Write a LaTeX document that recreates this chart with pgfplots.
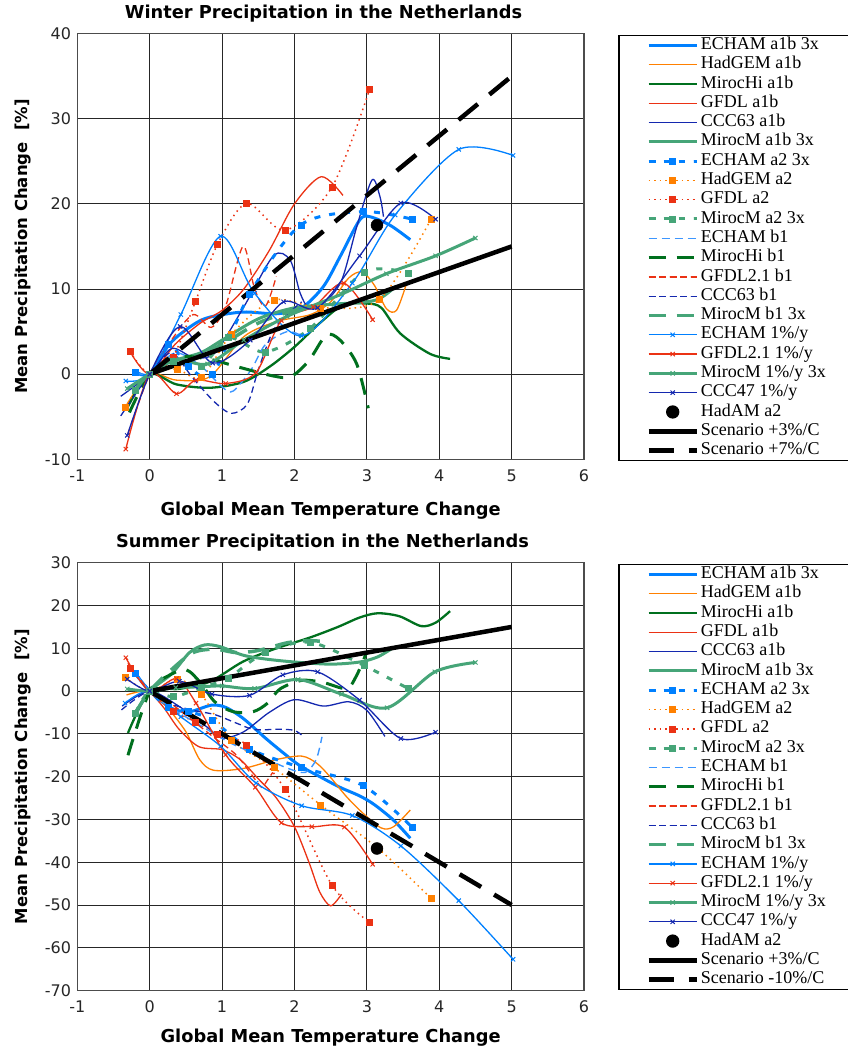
\documentclass[border=0pt]{standalone}
\usepackage{pgfplots}
\pgfplotsset{compat=1.18}
\usepackage{fontspec}
\setmainfont{Liberation Serif}
\newfontfamily\dv{DejaVu Sans}

\definecolor{echam}{RGB}{0,128,255}
\definecolor{hadgem}{RGB}{255,128,0}
\definecolor{mirochi}{RGB}{0,112,30}
\definecolor{gfdl}{RGB}{235,50,20}
\definecolor{ccc}{RGB}{20,40,175}
\definecolor{mirocm}{RGB}{70,165,120}
\definecolor{echamb}{RGB}{60,150,255}

\pgfplotsset{
 sEa1b/.style={echam, line width=3pt, smooth},
 sHa1b/.style={hadgem, line width=1.3pt, smooth},
 sMHa1b/.style={mirochi, line width=2.3pt, smooth},
 sGa1b/.style={gfdl, line width=1.3pt, smooth},
 sCa1b/.style={ccc, line width=1.3pt, smooth},
 sMMa1b/.style={mirocm, line width=3pt, smooth},
 sEa2/.style={echam, line width=3pt, dash pattern=on 6pt off 9pt, smooth, mark=square*, mark size=3pt, mark options={solid, line width=0.5pt}},
 sHa2/.style={hadgem, line width=1.5pt, dash pattern=on 1.5pt off 4pt, smooth, mark=square*, mark size=3pt, mark options={solid, line width=0.5pt}},
 sGa2/.style={gfdl, line width=1.5pt, dash pattern=on 1.5pt off 4pt, smooth, mark=square*, mark size=3pt, mark options={solid, line width=0.5pt}},
 sMMa2/.style={mirocm, line width=3pt, dash pattern=on 6pt off 9pt, smooth, mark=square*, mark size=3pt, mark options={solid, line width=0.5pt}},
 sEb1/.style={echamb, line width=1.4pt, dash pattern=on 8pt off 5pt, smooth},
 sMHb1/.style={mirochi, line width=3pt, dash pattern=on 17pt off 11pt, smooth},
 sGb1/.style={gfdl, line width=1.3pt, dash pattern=on 6.5pt off 4pt, smooth},
 sCb1/.style={ccc, line width=1.3pt, dash pattern=on 6.5pt off 4pt, smooth},
 sMMb1/.style={mirocm, line width=3.5pt, dash pattern=on 17pt off 11pt, smooth},
 sE1/.style={echam, line width=1.3pt, smooth, mark=x, mark size=3pt, mark options={solid, line width=1pt}},
 sG1/.style={gfdl, line width=1.3pt, smooth, mark=x, mark size=3pt, mark options={solid, line width=1pt}},
 sMM1/.style={mirocm, line width=3pt, smooth, mark=x, mark size=3pt, mark options={solid, line width=1pt}},
 sC1/.style={ccc, line width=1.3pt, smooth, mark=x, mark size=3pt, mark options={solid, line width=1pt}},
 sHad/.style={black, only marks, mark=*, mark size=6pt},
 sS3/.style={black, line width=4.5pt},
 sS7/.style={black, line width=4.5pt, dash pattern=on 25pt off 15pt},
 myaxis/.style={
  scale only axis, width=506.7pt,
  xmin=-1, xmax=6, xtick={-1,0,...,6},
  grid=major, major grid style={black!85, line width=0.9pt},
  axis line style={black!70, line width=1.3pt},
  major tick length=0pt,
  tick label style={font=\dv\fontsize{16}{18}\selectfont, text=black!85},
  /pgf/number format/assume math mode=true,
  xticklabel style={yshift=-7pt},
  yticklabel style={xshift=-2.7pt},
  label style={font=\dv\bfseries\fontsize{17.8}{19}\selectfont},
  title style={font=\dv\bfseries\fontsize{17.8}{19}\selectfont, anchor=base},
  ylabel style={at={(axis description cs:-0.0985,0.5)}, anchor=base, font=\dv\bfseries\fontsize{16.5}{19}\selectfont},
  ylabel={Mean Precipitation Change~~[\%]},
  xlabel={Global Mean Temperature Change},
  legend cell align=left,
  legend style={anchor=north west, draw=black, line width=1.3pt, inner xsep=22pt, inner ysep=0pt, row sep=0pt,
    font=\fontsize{18}{20}\selectfont,
    nodes={inner xsep=2pt, inner ysep=1.5pt, outer sep=0pt, text height=12.3pt, text depth=4pt}},
  legend image code/.code={\path (-5.5pt,0pt); \draw[mark repeat=2,mark phase=2,##1] plot coordinates {(0pt,0pt) (24pt,0pt) (48pt,0pt)};},
 }
}

\begin{document}
\begin{tikzpicture}
\path[use as bounding box] (0,0) rectangle (847pt,1047pt);

% ---------------- Winter ----------------
\begin{axis}[myaxis, at={(77.3pt,587.7pt)}, anchor=south west, height=425.6pt,
  ymin=-10, ymax=40, ytick={-10,0,...,40},
  title={Winter Precipitation in the Netherlands},
  title style={at={(axis description cs:0.486,1.0212)}},
  xlabel style={at={(axis description cs:0.5,-0.1316)}, anchor=base},
  legend style={at={(axis description cs:1.0677,0.9970)}},
]
\addplot[sEa1b] coordinates {(-0.2,0.27) (0,0) (0.28,3.6) (0.6,5.8) (0.83,6.7) (1.29,7.3) (1.76,7.1) (2.1,7.8) (2.4,10.3) (2.63,13.8) (2.9,18.1) (3.04,18.5) (3.32,17.5) (3.6,15.8)};
\addlegendentry{ECHAM a1b 3x}
\addplot[sHa1b] coordinates {(-0.34,-3.9) (0,0) (0.37,-0.7) (0.83,-0.3) (1.3,4.4) (1.76,6.2) (2.22,7.0) (2.5,8.5) (2.75,11.3) (2.93,12.0) (3.1,10.5) (3.27,7.7) (3.41,7.5) (3.55,10.7)};
\addlegendentry{HadGEM a1b}
\addplot[sMHa1b] coordinates {(-0.3,-3.8) (0,0) (0.37,-1.2) (0.83,-1.6) (1.3,-0.9) (1.66,0.9) (2.0,3.2) (2.35,6.0) (2.67,8.1) (3.0,8.3) (3.2,7.8) (3.46,4.8) (3.87,2.4) (4.15,1.8)};
\addlegendentry{MirocHi a1b}
\addplot[sGa1b] coordinates {(-0.275,2.7) (0,0) (0.35,3.5) (0.7,6.0) (1.0,7.5) (1.3,10) (1.65,14.5) (2.0,20) (2.37,23.2) (2.67,21.0)};
\addlegendentry{GFDL a1b}
\addplot[sCa1b] coordinates {(-0.4,-2.6) (0,0) (0.3,3.0) (0.6,2.0) (0.9,2.5) (1.3,7.9) (1.71,13.9) (1.94,13.4) (2.08,9.5) (2.2,7.8) (2.4,8.3) (2.65,11) (2.86,17.3) (3.07,22.8) (3.18,20.9) (3.23,18.5)};
\addlegendentry{CCC63 a1b}
\addplot[sMMa1b] coordinates {(-0.196,-1.9) (0,0) (0.3,1.5) (0.7,2.5) (1.0,4.0) (1.5,6.5) (2.0,7.8) (2.5,8.2) (3.0,8.5) (3.2,9.0) (3.4,10.3)};
\addlegendentry{MirocM a1b 3x}
\addplot[sEa2] coordinates {(-0.196,0.27) (0,0) (0.26,3.5) (0.535,0.94) (0.87,0.0) (1.38,9.4) (2.09,17.55) (2.95,19.1) (3.63,18.2)};
\addlegendentry{ECHAM a2 3x}
\addplot[sHa2] coordinates {(-0.34,-3.9) (0,0) (0.38,0.55) (0.715,-0.4) (1.13,4.7) (1.715,8.7) (2.36,7.8) (3.17,8.75) (3.89,18.25)};
\addlegendentry{HadGEM a2}
\addplot[sGa2] coordinates {(-0.275,2.7) (0,0) (0.32,2.0) (0.635,8.6) (0.94,15.3) (1.34,20.05) (1.87,16.9) (2.52,22.0) (3.04,33.5)};
\addlegendentry{GFDL a2}
\addplot[sMMa2] coordinates {(-0.196,-1.9) (0,0) (0.32,1.5) (0.715,0.9) (1.09,4.3) (1.59,2.6) (2.22,5.4) (2.96,12.0) (3.57,11.9)};
\addlegendentry{MirocM a2 3x}
\addplot[sEb1] coordinates {(-0.196,0.27) (0,0) (0.35,2.5) (0.7,1.0) (1.0,-1.5) (1.15,-2.0) (1.4,0.5) (1.6,3.5) (1.9,5.0) (2.1,4.5)};
\addlegendentry{ECHAM b1}
\addplot[sMHb1] coordinates {(-0.28,-4.5) (0,0) (0.35,2.0) (0.8,1.8) (1.2,0.9) (1.7,-0.2) (1.95,-0.3) (2.2,1.6) (2.44,4.6) (2.63,4.0) (2.86,1.2) (3.02,-4.0)};
\addlegendentry{MirocHi b1}
\addplot[sGb1] coordinates {(-0.3,-7.0) (0,0) (0.3,4) (0.6,7.0) (0.85,5.5) (1.05,8) (1.29,15.0) (1.45,10) (1.6,8) (1.75,11.5)};
\addlegendentry{GFDL2.1 b1}
\addplot[sCb1] coordinates {(-0.4,-4.9) (0,0) (0.3,2.5) (0.6,-0.5) (0.9,-3.3) (1.13,-4.6) (1.35,-3.5) (1.5,0.5) (1.7,5) (1.9,7.0) (2.1,8.5)};
\addlegendentry{CCC63 b1}
\addplot[sMMb1] coordinates {(-0.196,-1.9) (0,0) (0.5,1.5) (1.0,3.5) (1.5,6) (2.0,7.5) (2.4,8.0)};
\addlegendentry{MirocM b1 3x}
\addplot[sE1] coordinates {(-0.33,-0.8) (0,0) (0.43,7.0) (0.98,16.2) (1.45,9.5) (2.1,4.5) (2.8,10.7) (3.39,18.7) (4.27,26.4) (5.02,25.7)};
\addlegendentry{ECHAM 1\%/y}
\addplot[sG1] coordinates {(-0.33,-8.8) (0,0) (0.37,-2.3) (0.64,-0.7) (1.05,-1.1) (1.47,0.2) (1.82,6.3) (2.26,7.9) (2.68,10.7) (3.08,6.4)};
\addlegendentry{GFDL2.1 1\%/y}
\addplot[sMM1] coordinates {(-0.31,-1.7) (0,0) (0.36,1.7) (0.8,1.2) (1.3,4) (1.9,6.8) (2.65,9.4) (3.27,11.8) (3.95,13.9) (4.5,16.0)};
\addlegendentry{MirocM 1\%/y 3x}
\addplot[sC1] coordinates {(-0.31,-7.2) (0,0) (0.42,5.6) (0.87,1.3) (1.39,4.0) (1.85,8.5) (2.32,7.8) (2.9,13.9) (3.47,20.1) (3.95,18.2)};
\addlegendentry{CCC47 1\%/y}
\addplot[sHad] coordinates {(3.14,17.5)};
\addlegendentry{HadAM a2}
\addplot[sS3] coordinates {(0,0) (5,15)};
\addlegendentry{Scenario +3\%/C}
\addplot[sS7] coordinates {(0,0) (5,35)};
\addlegendentry{Scenario +7\%/C}
\end{axis}

% ---------------- Summer ----------------
\begin{axis}[myaxis, at={(77.3pt,56.5pt)}, anchor=south west, height=427.7pt,
  ymin=-70, ymax=30, ytick={-70,-60,...,30},
  title={Summer Precipitation in the Netherlands},
  title style={at={(axis description cs:0.484,1.0211)}},
  xlabel style={at={(axis description cs:0.5,-0.1212)}, anchor=base},
  legend style={at={(axis description cs:1.0677,0.9970)}},
]
\addplot[sEa1b] coordinates {(-0.196,4.1) (0,0) (0.3,-4.0) (0.55,-4.8) (0.85,-3.3) (1.05,-3.8) (1.3,-6.5) (1.6,-11) (1.85,-14.5) (2.08,-17.5) (2.35,-20) (2.63,-22.5) (2.9,-24.5) (3.1,-26.5) (3.37,-30.2) (3.6,-34.4)};
\addlegendentry{ECHAM a1b 3x}
\addplot[sHa1b] coordinates {(-0.32,-0.9) (0,0) (0.25,-4) (0.5,-9.5) (0.69,-16) (0.88,-18.5) (1.29,-18.1) (1.75,-16.0) (2.1,-15.2) (2.31,-16.9) (2.49,-20) (2.72,-24.7) (2.95,-28.6) (3.2,-32) (3.37,-31.7) (3.6,-27.8)};
\addlegendentry{HadGEM a1b}
\addplot[sMHa1b] coordinates {(-0.3,-9.8) (0,0) (0.4,0.5) (0.83,2.2) (1.29,6.9) (1.75,10) (2.21,12.5) (2.6,15) (2.9,17.2) (3.15,18.2) (3.45,17.5) (3.75,15.2) (3.95,16.0) (4.15,18.7)};
\addlegendentry{MirocHi a1b}
\addplot[sGa1b] coordinates {(-0.275,5.35) (0,0) (0.2,-4) (0.41,-9) (0.68,-13) (1.0,-13.7) (1.25,-16) (1.5,-20.5) (1.75,-25) (2.0,-31.7) (2.2,-40) (2.35,-47) (2.5,-50.2) (2.65,-47.5)};
\addlegendentry{GFDL a1b}
\addplot[sCa1b] coordinates {(-0.38,-3.5) (0,0) (0.4,-3.5) (0.8,-8.5) (1.0,-11) (1.3,-9.5) (1.65,-5) (2.0,-2.0) (2.4,-3.5) (2.75,-2.5) (3.0,-4.5) (3.25,-10.6)};
\addlegendentry{CCC63 a1b}
\addplot[sMMa1b] coordinates {(-0.196,-5.1) (0,0) (0.3,4) (0.55,9) (0.76,10.8) (0.97,10.4) (1.29,8.4) (1.6,7.5) (2.0,6.8) (2.5,6.3) (2.9,6.8) (3.15,8.0) (3.35,10.0)};
\addlegendentry{MirocM a1b 3x}
\addplot[sEa2] coordinates {(-0.196,4.1) (0,0) (0.26,-3.8) (0.535,-4.7) (0.87,-6.9) (1.38,-13.5) (2.09,-17.85) (2.95,-22.1) (3.63,-31.9)};
\addlegendentry{ECHAM a2 3x}
\addplot[sHa2] coordinates {(-0.34,3.2) (0,0) (0.38,2.8) (0.715,-0.8) (1.13,-11.5) (1.715,-17.9) (2.36,-26.6) (3.17,-37) (3.89,-48.5)};
\addlegendentry{HadGEM a2}
\addplot[sGa2] coordinates {(-0.275,5.35) (0,0) (0.32,-4.6) (0.635,-7.3) (0.94,-10.2) (1.34,-12.55) (1.87,-23.0) (2.52,-45.4) (3.04,-54.1)};
\addlegendentry{GFDL a2}
\addplot[sMMa2] coordinates {(-0.196,-5.1) (0,0) (0.32,-1.3) (0.715,0.8) (1.09,3.1) (1.59,9.0) (2.22,11.4) (2.96,6.0) (3.57,0.6)};
\addlegendentry{MirocM a2 3x}
\addplot[sEb1] coordinates {(-0.196,4.1) (0,0) (0.3,-4) (0.7,-8) (1.1,-12) (1.5,-15) (1.9,-18) (2.15,-19) (2.3,-16) (2.38,-10.7)};
\addlegendentry{ECHAM b1}
\addplot[sMHb1] coordinates {(-0.3,-15) (0,0) (0.25,3.5) (0.5,5.0) (0.7,2.0) (0.9,-2.5) (1.15,-4.8) (1.43,-4.8) (1.63,-2.8) (1.8,0.5) (2.1,2.5) (2.4,2.0) (2.72,0.6) (2.86,3.7) (3.0,9.2)};
\addlegendentry{MirocHi b1}
\addplot[sGb1] coordinates {(-0.3,6.5) (0,0) (0.3,-3) (0.6,-7) (0.9,-11) (1.2,-15) (1.45,-20.5) (1.55,-22.5) (1.62,-21) (1.7,-19)};
\addlegendentry{GFDL2.1 b1}
\addplot[sCb1] coordinates {(-0.39,-4.4) (0,0) (0.3,-3) (0.6,-4.5) (0.9,-5.5) (1.2,-7.5) (1.45,-9.0) (1.8,-8.9) (2.0,-9.2) (2.1,-10.3)};
\addlegendentry{CCC63 b1}
\addplot[sMMb1] coordinates {(-0.196,-5.1) (0,0) (0.3,5) (0.6,9) (0.9,9.8) (1.2,9) (1.5,9.5) (1.9,11.3) (2.2,11.8) (2.45,11.5)};
\addlegendentry{MirocM b1 3x}
\addplot[sE1] coordinates {(-0.34,-2.8) (0,0) (0.43,-6.0) (0.98,-12.9) (1.47,-21.5) (2.1,-26.8) (2.8,-29.1) (3.47,-36.2) (4.27,-49.0) (5.02,-62.7)};
\addlegendentry{ECHAM 1\%/y}
\addplot[sG1] coordinates {(-0.33,7.8) (0,0) (0.37,2.9) (0.64,-2.8) (1.05,-14.9) (1.46,-22.5) (1.82,-30.8) (2.24,-31.7) (2.69,-31.8) (3.08,-40.5)};
\addlegendentry{GFDL2.1 1\%/y}
\addplot[sMM1] coordinates {(-0.31,0.5) (0,0) (0.36,0.8) (0.7,1.0) (1.0,1.2) (1.45,0.6) (2.05,2.7) (2.65,-0.7) (3.28,-3.9) (3.94,4.5) (4.5,6.7)};
\addlegendentry{MirocM 1\%/y 3x}
\addplot[sC1] coordinates {(-0.31,2.8) (0,0) (0.41,2.3) (0.86,-0.7) (1.38,-1.0) (1.84,3.8) (2.32,4.5) (2.9,-2.1) (3.47,-11.1) (3.95,-9.6)};
\addlegendentry{CCC47 1\%/y}
\addplot[sHad] coordinates {(3.14,-36.8)};
\addlegendentry{HadAM a2}
\addplot[sS3] coordinates {(0,0) (5,15)};
\addlegendentry{Scenario +3\%/C}
\addplot[sS7] coordinates {(0,0) (5,-50)};
\addlegendentry{Scenario -10\%/C}
\end{axis}
\end{tikzpicture}
\end{document}
